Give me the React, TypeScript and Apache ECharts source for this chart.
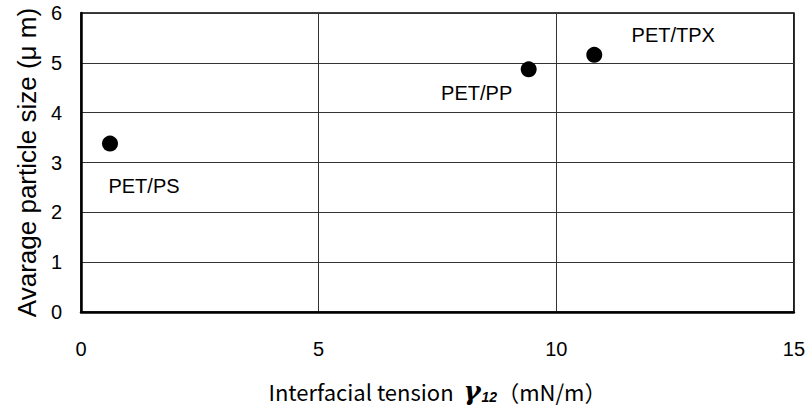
import React, { useEffect, useRef } from "react";
import * as echarts from "echarts";

const names = ["PET/PS", "PET/PP", "PET/TPX"];
const tension = [0.61, 9.42, 10.8];
const particleSize = [3.38, 4.87, 5.16];
const labelOffsets: [number, number][] = [[34, 42], [-52, 24], [79, -20]];

export default function App() {
  const ref = useRef<HTMLDivElement>(null);
  useEffect(() => {
    const chart = echarts.init(ref.current!, null, { renderer: "svg" });
    const font = "Liberation Sans, Arial, sans-serif";
    const jp = "Noto Sans CJK JP, DejaVu Sans, sans-serif";
    chart.setOption({
      animation: false,
      backgroundColor: "#fff",
      grid: { left: 81, top: 13, right: 13, bottom: 102, show: true, borderColor: "#000", borderWidth: 1.5 },
      xAxis: {
        type: "value", min: 0, max: 15, interval: 5,
        axisLine: { show: true, lineStyle: { color: "#000", width: 2.5 } },
        axisTick: { show: false },
        splitLine: { show: true, lineStyle: { color: "#333", width: 1 } },
        axisLabel: { color: "#000", fontSize: 20, fontFamily: font, margin: 27 },
        name: "{a|Interfacial tension  }{g|γ}{s|12}{a|（mN/m）}",
        nameLocation: "middle",
        nameGap: 66,
        nameTextStyle: {
          rich: {
            a: { fontSize: 22, fontFamily: jp, color: "#000" },
            g: { fontSize: 26, fontStyle: "italic", fontWeight: "bold", fontFamily: "DejaVu Serif, serif", color: "#000" },
            s: { fontSize: 14, fontStyle: "italic", fontWeight: "bold", fontFamily: font, color: "#000", verticalAlign: "bottom", padding: [10, 0, 0, 1] },
          },
        },
      },
      yAxis: {
        type: "value", min: 0, max: 6, interval: 1,
        axisLine: { show: true, lineStyle: { color: "#000", width: 2.5 } },
        axisTick: { show: false },
        splitLine: { show: true, lineStyle: { color: "#333", width: 1 } },
        axisLabel: { color: "#000", fontSize: 20, fontFamily: font, margin: 19 },
        name: "Avarage particle size (μ m)",
        nameLocation: "middle",
        nameGap: 40,
        nameTextStyle: { fontSize: 26, fontFamily: font, color: "#000" },
      },
      series: [
        {
          type: "scatter",
          symbol: "circle",
          symbolSize: 16,
          itemStyle: { color: "#000", opacity: 1 },
          data: names.map((n, i) => ({
            value: [tension[i], particleSize[i]],
            name: n,
            label: {
              show: true,
              formatter: n,
              position: "inside",
              offset: labelOffsets[i],
              color: "#000",
              fontSize: 20,
              fontFamily: font,
            },
          })),
        },
      ],
    });
    return () => chart.dispose();
  }, []);
  return <div ref={ref} style={{ width: 808, height: 414, position: "absolute", left: 0, top: 0 }} />;
}
